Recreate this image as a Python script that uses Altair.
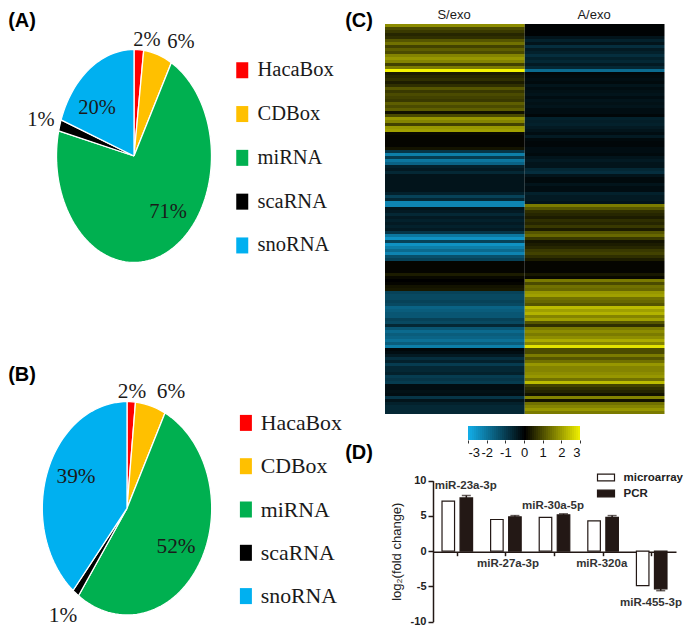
import numpy as np
import pandas as pd
import altair as alt

W, H = 676, 619
SERIF = "Liberation Serif"
SANS = "Liberation Sans"

categories = ["HacaBox", "CDBox", "miRNA", "scaRNA", "snoRNA"]
cat_colors = ["#FF0000", "#FFC000", "#00B050", "#000000", "#00B0F0"]
shares_a = [2.0, 6.0, 70.8, 1.7, 19.5]
shares_b = [1.6, 5.8, 52.3, 1.3, 39.0]
pct_a = ["2%", "6%", "71%", "1%", "20%"]
pct_b = ["2%", "6%", "52%", "1%", "39%"]

s_exo = [1.5, .8, .6, .4, .5, .9, 1.2, .7, 1.0, .8,
         1.4, 1.6, 1.4, .7, 1.3, 2.9, .3, .4, .5, .3,
         .5, .9, .6, .8, .7, .6, 1.0, .8, 1.0, .2,
         .8, 1.6, 1.4, .7, 1.6, 1.7, .1, .05, .05, .05,
         .05, .2, -.8, -1.9, -.9, -1.8, -1.5, -.5, -.4, -.6,
         -.3, -.3, -.3, -.3, -.3, -.3, -.5, -1.0, -.6, -2.0,
         -2.0, -.3,
         -.4, -.6, -.4, -.5, -.4, -.5, -.4, -.8, -1.8, -2.2,
         -1.0, -2.2, -1.9, -1.6, -2.0, -1.2, -1.0, .05, .05, .05,
         .05, .3, .1, 0, .05, .2, .25, -1.0, -1.1, -1.1,
         -1.0, -1.1, -1.5, -1.4, -1.3, -1.3, -1.0, -1.1, -.6, -1.3,
         -1.6, -1.4, -1.5, -1.7, -1.4, -1.9, -.1, -.2, -.4, -.7,
         -.5, -.9, -.6, -.6, -.5, -.9, -.8, -.9, -.2, -.2,
         -.25, -.2, -.8, -.3, -.5, -.6, -.6, -.6]
a_exo = [-.05, -.05, -.05, -.05, -.3, -.5, -.3, -.7, -.4, -.5,
         -.7, -.5, -.6, -.4, -.6, -1.6, -.1, -.15, -.2, -.15,
         -.3, -.2, -.25, -.3, -.2, -.3, -.25, -.3, -.2, -.2,
         -.1, -.5, -.45, -.5, -.4, -.3, -.2, -.4, -.15, -.1,
         -.1, -.2, -.2, -.15, -.3, -.4, -.3, -.3, -.6, -.7,
         -.3, -.15, -.15, -.3, -.2, -.2, -.5, -.4, -.4, -.3,
         1.3, .9,
         .5, .4, .3, .5, .4, .6, .3, .9, 1.1, .6,
         .2, .3, .4, .6, .7, .5, .3, .05, .05, .05,
         .05, .25, .1, 1.3, .8, 1.2, 1.1, 1.6, 1.7, 1.2,
         1.1, .9, 2.0, 1.7, 1.9, 1.4, 1.7, .9, .5, 1.3,
         1.5, 1.3, 1.5, 1.8, 1.4, 2.4, .8, .8, 1.3, .9,
         1.2, 1.6, 1.4, 1.4, 1.5, 1.6, 1.2, 2.0, .7, .5,
         .4, .2, 1.4, .2, 1.2, 1.4, 1.6, 1.3]
heat_cols = ["S/exo", "A/exo"]
bar_domain = [-3, 0, 3]
heat_domain = [-2.6, 0, 2.6]
heat_colors = ["#12ACE6", "#000000", "#F5F500"]
bar_ticks = [-3, -2, -1, 0, 1, 2, 3]

genes = ["miR-23a-3p", "miR-27a-3p", "miR-30a-5p", "miR-320a", "miR-455-3p"]
microarray = [7.1, 4.5, 4.8, 4.3, -4.87]
pcr = [7.55, 4.87, 5.15, 4.8, -5.35]
pcr_end = [7.9, 5.05, 5.3, 5.05, -5.6]
series = ["microarray", "PCR"]
series_colors = ["#FFFFFF", "#231815"]

one = pd.DataFrame({"a": [0]})


def note(text, x, y, size=20, font=SERIF, weight="normal", color="#1a1a1a"):
    return alt.Chart(one).mark_text(
        text=text, font=font, fontSize=size, fontWeight=weight, color=color,
        align="center", baseline="middle",
    ).encode(x=alt.value(x - 8), y=alt.value(y - 8))


def pie_rows(shares):
    rows = []
    start = 0.0
    for cat, s in zip(categories, shares):
        end = start + s
        rows.append((cat, 0, 0.0, 0.0))
        n = max(4, int(s * 1.5))
        for i, f in enumerate(np.linspace(start, end, n)):
            t = 2 * np.pi * f / 100
            rows.append((cat, i + 1, float(np.sin(t)), float(np.cos(t))))
        rows.append((cat, n + 1, 0.0, 0.0))
        start = end
    return pd.DataFrame(rows, columns=["cat", "i", "ux", "uy"])


def pie(shares, cx, cy, rx, ry, lx, ly, lsize, loff, rowpad):
    cx, cy, lx, ly = cx - 8, cy - 8, lx - 8, ly - 8
    return alt.Chart(pie_rows(shares)).mark_line(strokeWidth=1.3, strokeJoin="round").encode(
        x=alt.X("ux:Q", axis=None, scale=alt.Scale(domain=[-1, 1], range=[cx - rx, cx + rx], nice=False, zero=False)),
        y=alt.Y("uy:Q", axis=None, scale=alt.Scale(domain=[-1, 1], range=[cy + ry, cy - ry], nice=False, zero=False)),
        order=alt.Order("i:Q"),
        stroke=alt.value("white"),
        fill=alt.Fill("cat:N", sort=categories, scale=alt.Scale(domain=categories, range=cat_colors),
                      legend=alt.Legend(orient="none", legendX=lx, legendY=ly, title=None,
                                        symbolType="M-0.75,-1H0.75V1H-0.75Z", symbolSize=256, symbolStrokeWidth=0,
                                        labelFont=SERIF, labelFontSize=lsize, labelColor="#1a1a1a",
                                        labelOffset=loff, rowPadding=rowpad)),
    )


pie_a = pie(shares_a, 134, 156, 77.5, 106.5, 232, 60, 20.5, 5, 22.8)
pie_b = pie(shares_b, 127, 508.3, 84.7, 106.7, 235, 412, 21.8, 4, 20.3)

heat_df = pd.DataFrame(
    [{"row": i, "col": heat_cols[0], "v": v} for i, v in enumerate(s_exo)]
    + [{"row": i, "col": heat_cols[1], "v": v} for i, v in enumerate(a_exo)]
)
heat = alt.Chart(heat_df).mark_rect().encode(
    x=alt.X("col:N", axis=None, scale=alt.Scale(domain=heat_cols, range=[377, 656.5])),
    y=alt.Y("row:O", axis=None, scale=alt.Scale(domain=list(range(len(s_exo))), range=[16, 406])),
    fill=alt.Fill("v:Q", legend=None,
                  scale=alt.Scale(domain=heat_domain, range=heat_colors, interpolate="rgb", clamp=True)),
)

steps = np.linspace(-3, 3, 57)
bar_df = pd.DataFrame({"v": steps[:-1], "v2": steps[1:]})
colorbar = alt.Chart(bar_df).mark_rect().encode(
    x=alt.X("v:Q", scale=alt.Scale(domain=[-3, 3], range=[460, 572], nice=False, zero=False),
            axis=alt.Axis(values=bar_ticks, title=None, orient="bottom", offset=-(H - 432), domain=False, grid=False,
                          tickSize=3, tickColor="#333333", labelFont=SANS, labelFontSize=13,
                          labelColor="#111111", labelPadding=3, labelOverlap=False, labelExpr="'' + datum.value")),
    x2="v2:Q",
    y=alt.value(418),
    y2=alt.value(432),
    fill=alt.Fill("v:Q", legend=None, scale=alt.Scale(domain=bar_domain, range=heat_colors, interpolate="rgb")),
)

bars_df = pd.DataFrame(
    [{"gene": g, "series": series[0], "v": v, "end": v} for g, v in zip(genes, microarray)]
    + [{"gene": g, "series": series[1], "v": v, "end": e} for g, v, e in zip(genes, pcr, pcr_end)]
)
xs = alt.Scale(domain=genes, range=[425, 668], paddingInner=0, paddingOuter=0)
ys = alt.Scale(domain=[-10, 10], range=[613.7, 472.7], nice=False)
xo = alt.XOffset("series:N", sort=series, scale=alt.Scale(domain=series, paddingInner=0.305, paddingOuter=0.5))
x_axis = alt.Axis(title=None, labels=False, orient="bottom", offset=-(H - 543.7), tickSize=4,
                  tickColor="#231815", tickWidth=1.5, domainColor="#231815", domainWidth=1.5, grid=False)
y_axis = alt.Axis(values=[-10, -5, 0, 5, 10], orient="left", offset=-425, title="log₂(fold change)", grid=False,
                  tickSize=5, tickColor="#231815", tickWidth=1.5, domainColor="#231815", domainWidth=1.5,
                  labelFont=SANS, labelFontSize=11, labelFontWeight="bold", labelColor="#222222", labelPadding=2,
                  labelExpr="'' + datum.value",
                  titleFont=SANS, titleFontSize=13, titleFontWeight="normal", titleColor="#222222", titlePadding=7)
bars = alt.Chart(bars_df).mark_bar(stroke="#231815", strokeWidth=1.2).encode(
    x=alt.X("gene:N", sort=genes, scale=xs, axis=x_axis),
    xOffset=xo,
    y=alt.Y("v:Q", scale=ys, axis=y_axis),
    fill=alt.Fill("series:N", sort=series, scale=alt.Scale(domain=series, range=series_colors),
                  legend=alt.Legend(orient="none", legendX=588.5, legendY=460, title=None,
                                    symbolType="M-1,-0.4H1V0.4H-1Z", symbolSize=289, symbolStrokeColor="#231815",
                                    symbolStrokeWidth=1.2, labelFont=SANS, labelFontSize=11.5, labelFontWeight="bold",
                                    labelColor="#222222", labelOffset=8, rowPadding=0)),
)
pcr_df = bars_df[bars_df.series == series[1]]
err = alt.Chart(pcr_df).mark_rule(color="#231815", strokeWidth=1.5).encode(
    x=alt.X("gene:N", sort=genes, scale=xs, axis=x_axis),
    xOffset=xo,
    y=alt.Y("v:Q", scale=ys, axis=y_axis),
    y2="end:Q",
)
cap = alt.Chart(pcr_df).mark_tick(color="#231815", thickness=1.5, size=9).encode(
    x=alt.X("gene:N", sort=genes, scale=xs, axis=x_axis),
    xOffset=xo,
    y=alt.Y("end:Q", scale=ys, axis=y_axis),
)
bar_panel = alt.layer(bars, err, cap)

notes = [
    note("(A)", 22, 21, 20, SANS, "bold", "black"),
    note("(B)", 22, 375, 20, SANS, "bold", "black"),
    note("(C)", 359, 21, 20, SANS, "bold", "black"),
    note("(D)", 359, 453, 20, SANS, "bold", "black"),
    note(heat_cols[0], 454, 14.5, 13, SANS),
    note(heat_cols[1], 594, 14.5, 13, SANS),
]
for txt, (x, y) in zip(pct_a, [(147, 40), (181, 42), (168, 212), (41, 120), (97, 108)]):
    notes.append(note(txt, x, y, 20.5))
for txt, (x, y) in zip(pct_b, [(132, 392), (171, 392), (176, 547), (63, 616), (76, 477)]):
    notes.append(note(txt, x, y, 21.3))
gene_pos = [(465.7, 486), (508, 564), (553, 506), (601.7, 564), (651, 602.7)]
for g, (x, y) in zip(genes, gene_pos):
    notes.append(note(g, x, y, 11.5, SANS, "bold", "#333333"))

chart = alt.layer(pie_a, pie_b, heat, colorbar, bar_panel, *notes).resolve_scale(
    x="independent", y="independent", fill="independent", xOffset="independent"
).properties(width=W, height=H, padding=0, background="white").configure_view(stroke=None)

chart.save("out.html", embed_options={"renderer": "svg", "actions": False})
